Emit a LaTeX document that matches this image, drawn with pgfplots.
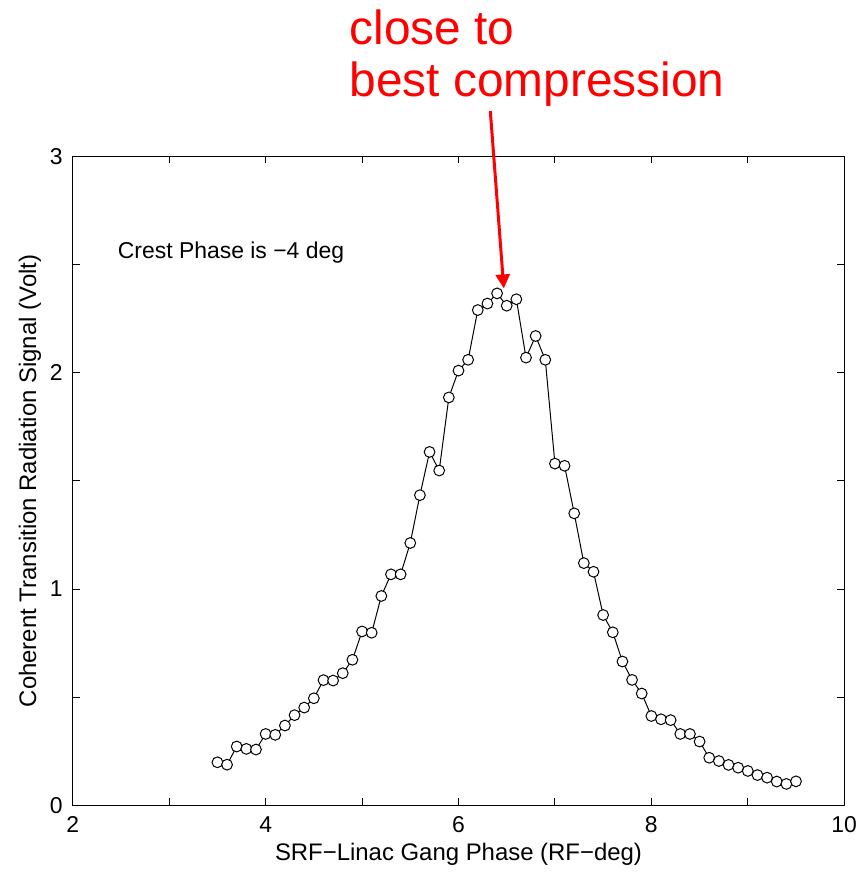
\documentclass[border=0pt]{standalone}
\usepackage{pgfplots}
\pgfplotsset{compat=1.18}
\usepackage{fontspec}
\setmainfont{Liberation Sans}
\usetikzlibrary{arrows.meta}
\begin{document}
\begin{tikzpicture}
\begin{axis}[
  name=ax,
  width=387pt, height=325.5pt, scale only axis,
  xmin=2, xmax=10, ymin=0, ymax=3,
  xtick={2,4,6,8,10}, minor xtick={3,5,7,9},
  ytick={0,1,2,3}, minor ytick={0.5,1.5,2.5},
  tick align=inside, major tick length=3.5pt, minor tick length=3.5pt,
  tick style={black, line width=0.5pt},
  axis line style={line width=0.5pt},
  /pgf/number format/assume math mode=true,
  ticklabel style={font=\fontsize{11.5}{13}\selectfont},
  xticklabel style={yshift=-2pt},
  yticklabel style={xshift=-1.5pt},
  label style={font=\fontsize{12}{14}\selectfont},
  xlabel={SRF−Linac Gang Phase (RF−deg)},
  ylabel={Coherent Transition Radiation Signal (Volt)},
  xlabel style={at={(axis description cs:0.5,-0.0753)}, anchor=center},
  ylabel style={at={(axis description cs:-0.0556,0.5)}, anchor=center},
  clip=false,
]
\addplot[black, line width=0.5pt, mark=*, mark size=2.7pt, mark options={fill=white, draw=black, line width=0.5pt}] coordinates {
(3.5,0.199) (3.6,0.188) (3.7,0.272) (3.8,0.261) (3.9,0.258)
(4.0,0.330) (4.1,0.326) (4.2,0.369) (4.3,0.417) (4.4,0.452)
(4.5,0.495) (4.6,0.579) (4.7,0.577) (4.8,0.611) (4.9,0.673)
(5.0,0.804) (5.1,0.798) (5.2,0.968) (5.3,1.068) (5.4,1.068)
(5.5,1.213) (5.6,1.434) (5.7,1.634) (5.8,1.548) (5.9,1.886)
(6.0,2.010) (6.1,2.060) (6.2,2.290) (6.3,2.320) (6.4,2.367)
(6.5,2.310) (6.6,2.340) (6.7,2.070) (6.8,2.170) (6.9,2.060)
(7.0,1.580) (7.1,1.570) (7.2,1.350) (7.3,1.120) (7.4,1.080)
(7.5,0.880) (7.6,0.800) (7.7,0.665) (7.8,0.580) (7.9,0.517)
(8.0,0.413) (8.1,0.398) (8.2,0.394) (8.3,0.330) (8.4,0.330)
(8.5,0.295) (8.6,0.220) (8.7,0.205) (8.8,0.187) (8.9,0.174)
(9.0,0.159) (9.1,0.140) (9.2,0.128) (9.3,0.110) (9.4,0.099)
(9.5,0.111)
};
\node[anchor=base west, font=\fontsize{11.5}{13}\selectfont, inner sep=0pt] at (axis cs:2.464,2.528) {Crest Phase is −4 deg};
\node[anchor=base west, font=\fontsize{24}{26}\selectfont, text=red, inner sep=0pt] at (axis cs:4.866,3.519) {close to};
\node[anchor=base west, font=\fontsize{24}{26}\selectfont, text=red, inner sep=0pt] at (axis cs:4.866,3.278) {best compression};
\draw[red, line width=1.5pt, -{Triangle[length=7pt, width=7pt]}] (axis cs:6.33,3.21) -- (axis cs:6.47,2.39);
\end{axis}
\path ([xshift=-36.5pt,yshift=-32pt]ax.south west) rectangle ([xshift=8pt,yshift=78.5pt]ax.north east);
\end{tikzpicture}
\end{document}
